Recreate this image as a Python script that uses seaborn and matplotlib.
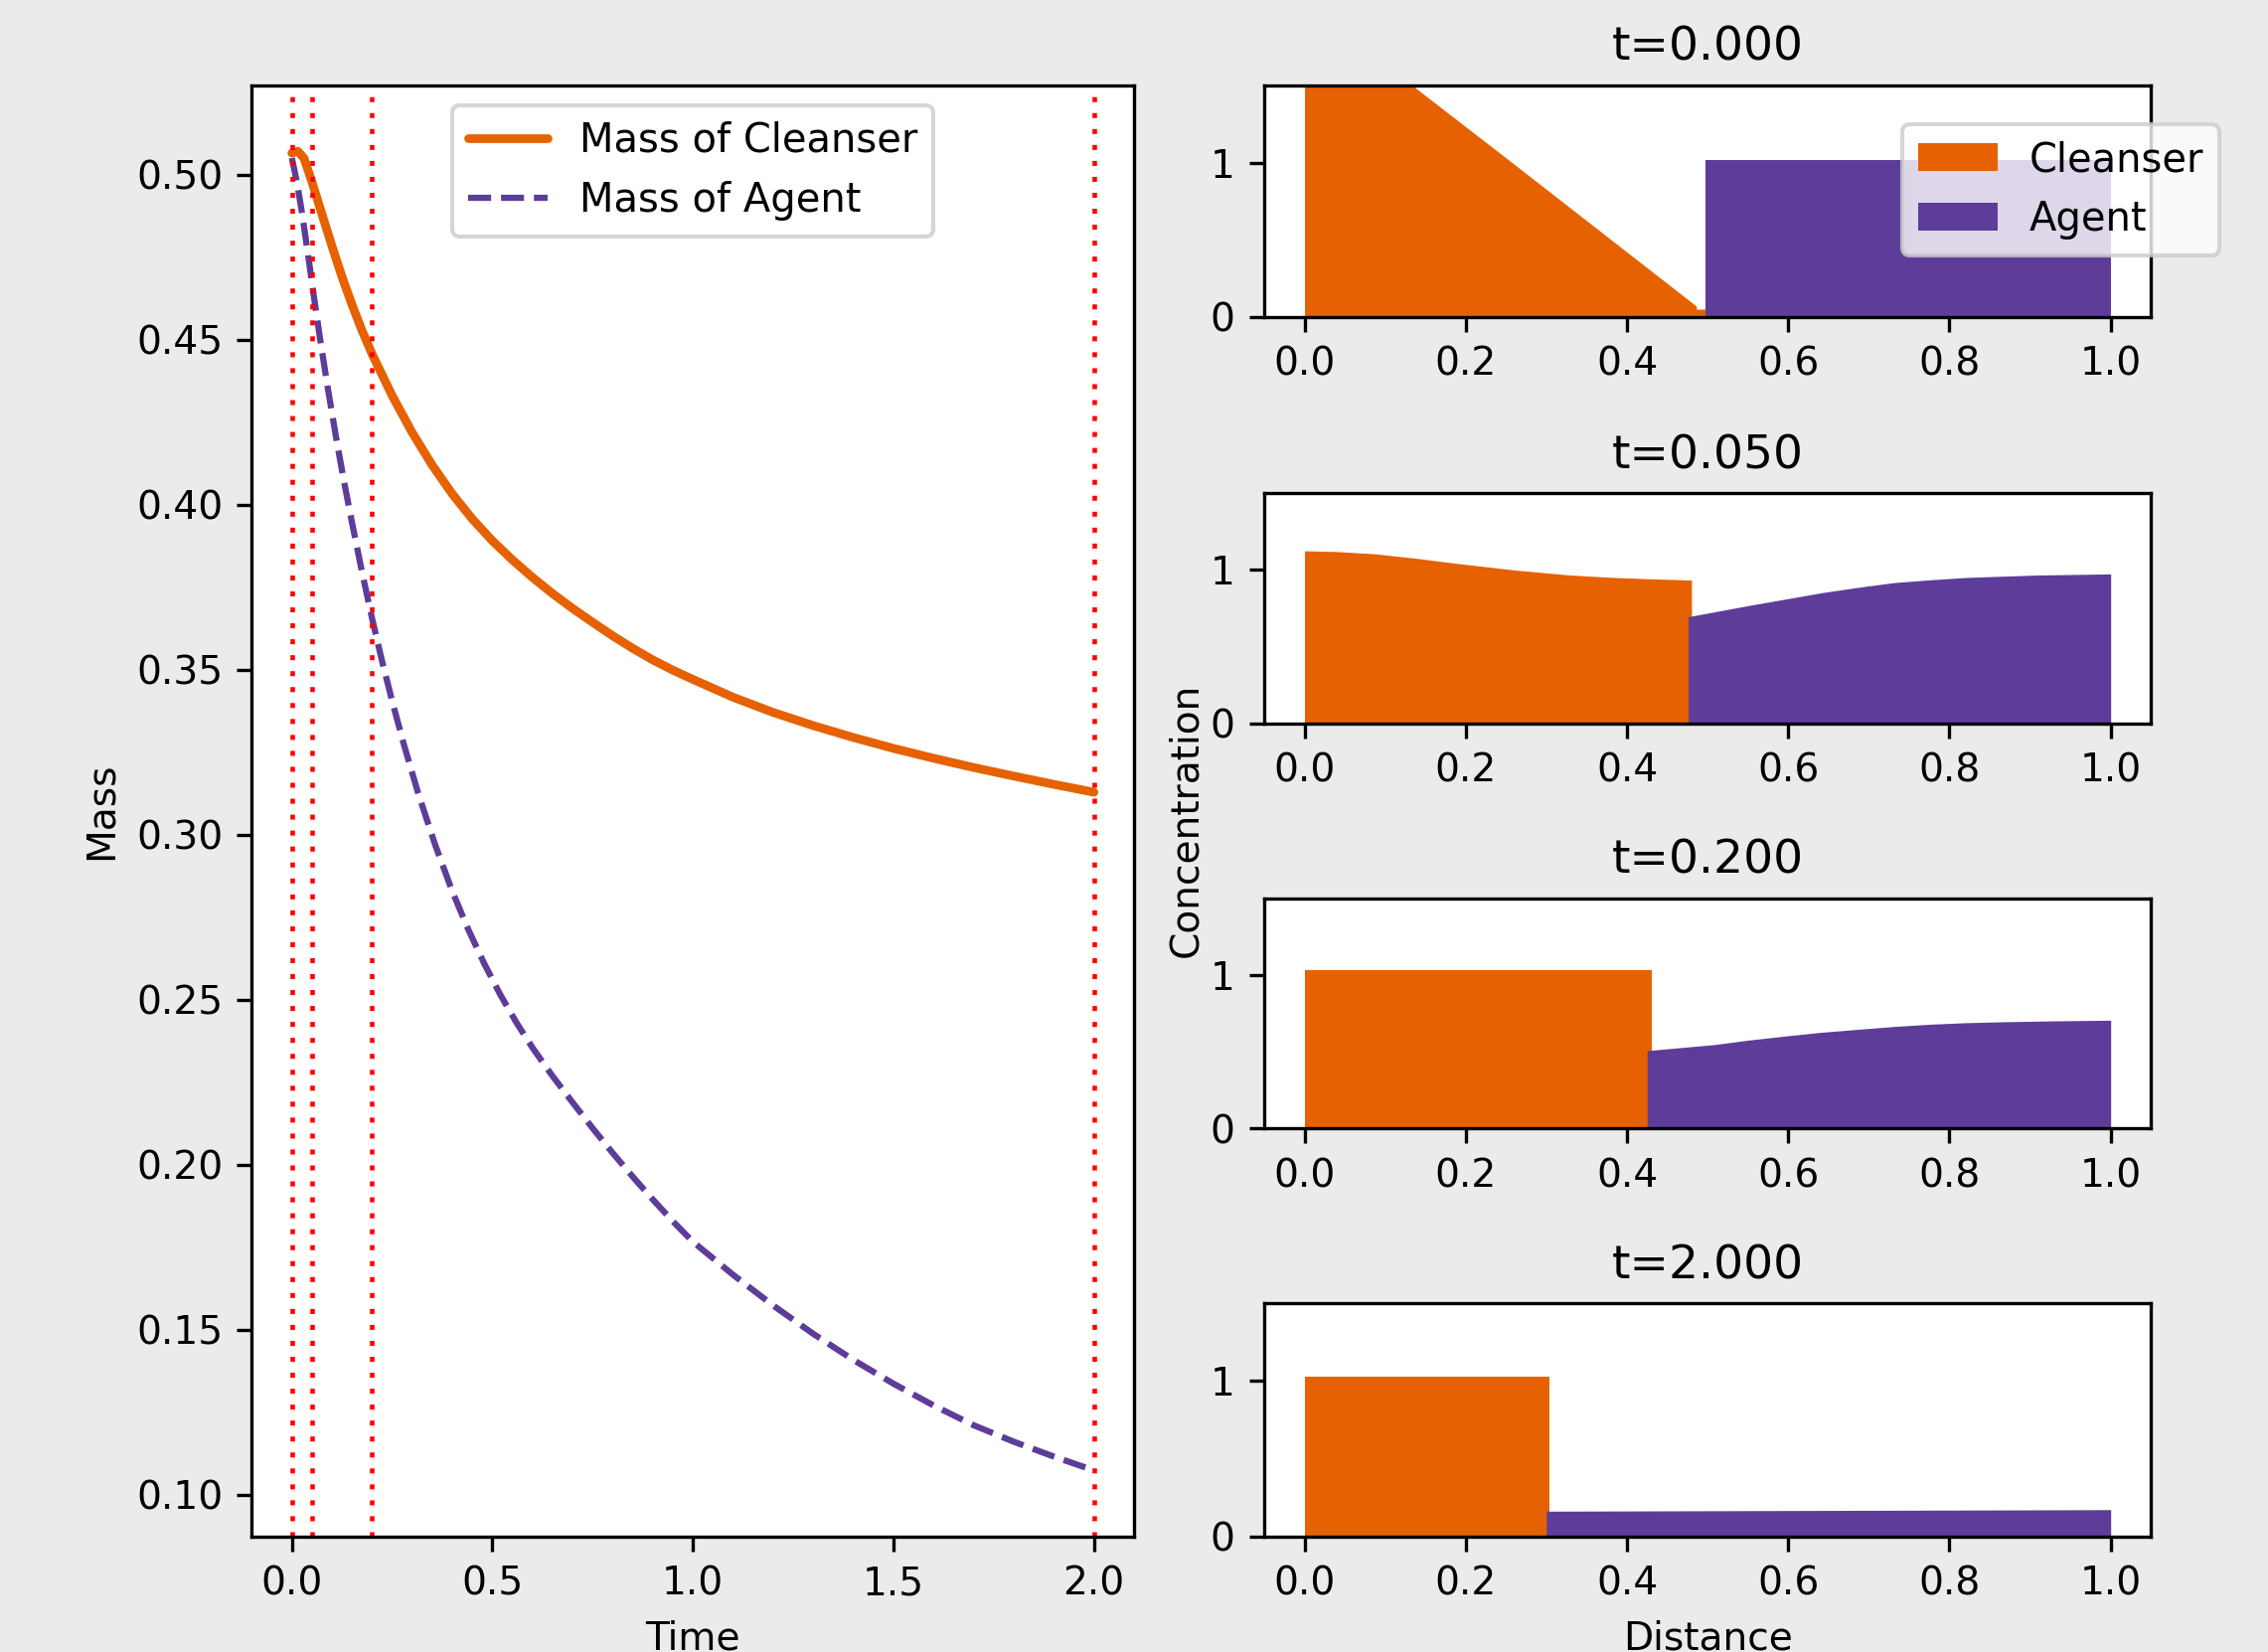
import matplotlib
matplotlib.use("Agg")
import matplotlib.pyplot as plt
import seaborn as sns
import pandas as pd

# mass over time
time_cl = [0.0, 0.015, 0.03, 0.05, 0.075, 0.1, 0.125, 0.15, 0.175, 0.2, 0.25, 0.3, 0.35, 0.4,
           0.45, 0.5, 0.55, 0.6, 0.65, 0.7, 0.75, 0.8, 0.85, 0.9, 0.95, 1.0, 1.1, 1.2, 1.3, 1.4,
           1.5, 1.6, 1.7, 1.8, 1.9, 2.0]
mass_cl = [0.5065, 0.507, 0.505, 0.4978, 0.488, 0.4783, 0.469, 0.4605, 0.4527, 0.4456, 0.433, 0.4218,
           0.4119, 0.4032, 0.3956, 0.389, 0.3832, 0.3779, 0.373, 0.3685, 0.3643, 0.3602, 0.3564, 0.3529,
           0.3498, 0.347, 0.3416, 0.337, 0.333, 0.3294, 0.3261, 0.3231, 0.3203, 0.3177, 0.3152, 0.3128]
time_ag = [0.0, 0.013, 0.026, 0.04, 0.055, 0.07, 0.09, 0.11, 0.13, 0.15, 0.175, 0.2, 0.225,
           0.25, 0.28, 0.315, 0.357, 0.4, 0.44, 0.48, 0.52, 0.56, 0.6, 0.65, 0.7, 0.75, 0.8,
           0.85, 0.9, 0.95, 1.0, 1.1, 1.2, 1.3, 1.4, 1.5, 1.6, 1.7, 1.8, 1.9, 2.0]
mass_ag = [0.505, 0.4975, 0.4878, 0.476, 0.463, 0.4505, 0.435, 0.4205, 0.407, 0.3945, 0.3795, 0.3655,
           0.3525, 0.3405, 0.327, 0.3125, 0.297, 0.2828, 0.2712, 0.2608, 0.2514, 0.243, 0.2354, 0.2268,
           0.2188, 0.211, 0.2035, 0.1963, 0.1894, 0.1828, 0.1766, 0.1666, 0.1573, 0.1487, 0.1408,
           0.1336, 0.127, 0.121, 0.116, 0.1115, 0.1073]

snap_times = [0.0, 0.05, 0.2, 2.0]

# concentration profiles at each snapshot
cl_x = [
    [0.0, 0.25, 0.486, 0.486, 0.497],
    [0.0, 0.04, 0.088, 0.14, 0.195, 0.26, 0.329, 0.38, 0.419, 0.48],
    [0.0, 0.431],
    [0.0, 0.304],
]
cl_c = [
    [2.04, 1.03, 0.07, 0.05, 0.05],
    [1.125, 1.12, 1.105, 1.075, 1.039, 1.0, 0.967, 0.952, 0.944, 0.934],
    [1.033, 1.033],
    [1.026, 1.026],
]
ag_x = [
    [0.497, 1.0],
    [0.476, 0.553, 0.6, 0.642, 0.69, 0.732, 0.78, 0.821, 0.87, 0.91, 1.0],
    [0.425, 0.508, 0.55, 0.598, 0.64, 0.687, 0.73, 0.776, 0.82, 0.866, 0.93, 1.0],
    [0.300, 1.0],
]
ag_c = [
    [1.015, 1.015],
    [0.695, 0.77, 0.813, 0.852, 0.889, 0.918, 0.937, 0.951, 0.96, 0.967, 0.974],
    [0.507, 0.546, 0.575, 0.603, 0.626, 0.646, 0.664, 0.679, 0.689, 0.695, 0.701, 0.705],
    [0.162, 0.172],
]

orange = "#e66101"
purple = "#5e3c99"

sns.set_style("ticks", {
    "axes.edgecolor": "black", "axes.labelcolor": "black", "text.color": "black",
    "xtick.color": "black", "ytick.color": "black",
    "figure.facecolor": "#ebebeb", "axes.facecolor": "white",
    "xtick.bottom": True, "ytick.left": True,
})
plt.rcParams["font.family"] = ["DejaVu Sans"]
plt.rcParams["font.size"] = 9.4

fig = plt.figure(figsize=(2282 / 300, 1662 / 300), dpi=300)

# left panel: mass over time
ax = fig.add_axes([0.1110, 0.0700, 0.3890, 0.8783])
df_cl = pd.DataFrame({"Time": time_cl, "Mass": mass_cl})
df_ag = pd.DataFrame({"Time": time_ag, "Mass": mass_ag})
sns.lineplot(data=df_cl, x="Time", y="Mass", ax=ax, color=orange, lw=2.1,
             label="Mass of Cleanser")
sns.lineplot(data=df_ag, x="Time", y="Mass", ax=ax, color=purple, lw=1.5,
             linestyle="--", label="Mass of Agent")
for t in snap_times:
    ax.axvline(t, color="red", lw=1.1, linestyle=(0, (1.1, 2.4)))
ax.legend(loc="upper center", fontsize=9.6)
ax.set_xlabel("Time")
ax.set_ylabel("Mass")
ax.set_xticks([0.0, 0.5, 1.0, 1.5, 2.0])

# right panels: concentration profiles
rows = [(0.8082, 0.1401), (0.5622, 0.1392), (0.3170, 0.1392), (0.0700, 0.1411)]
for i, (b, h) in enumerate(rows):
    a = fig.add_axes([0.5574, b, 0.3910, h])
    a.fill_between(cl_x[i], cl_c[i], color=orange, lw=0, label="Cleanser")
    a.fill_between(ag_x[i], ag_c[i], color=purple, lw=0, label="Agent")
    a.set_xlim(-0.05, 1.05)
    a.set_ylim(0, 1.5)
    a.set_yticks([0, 1])
    a.set_xticks([0.0, 0.2, 0.4, 0.6, 0.8, 1.0])
    a.set_title(f"t={snap_times[i]:.3f}", fontsize=11.3)
    if i == 0:
        a.legend(loc="upper right", bbox_to_anchor=(1.10, 0.918), fontsize=9.6)
    if i == 3:
        a.set_xlabel("Distance")

fig.text(0.5229, 0.5036, "Concentration", rotation=90, ha="center", va="center", fontsize=9.4)

fig.savefig("out.png", dpi=300, facecolor=fig.get_facecolor())
